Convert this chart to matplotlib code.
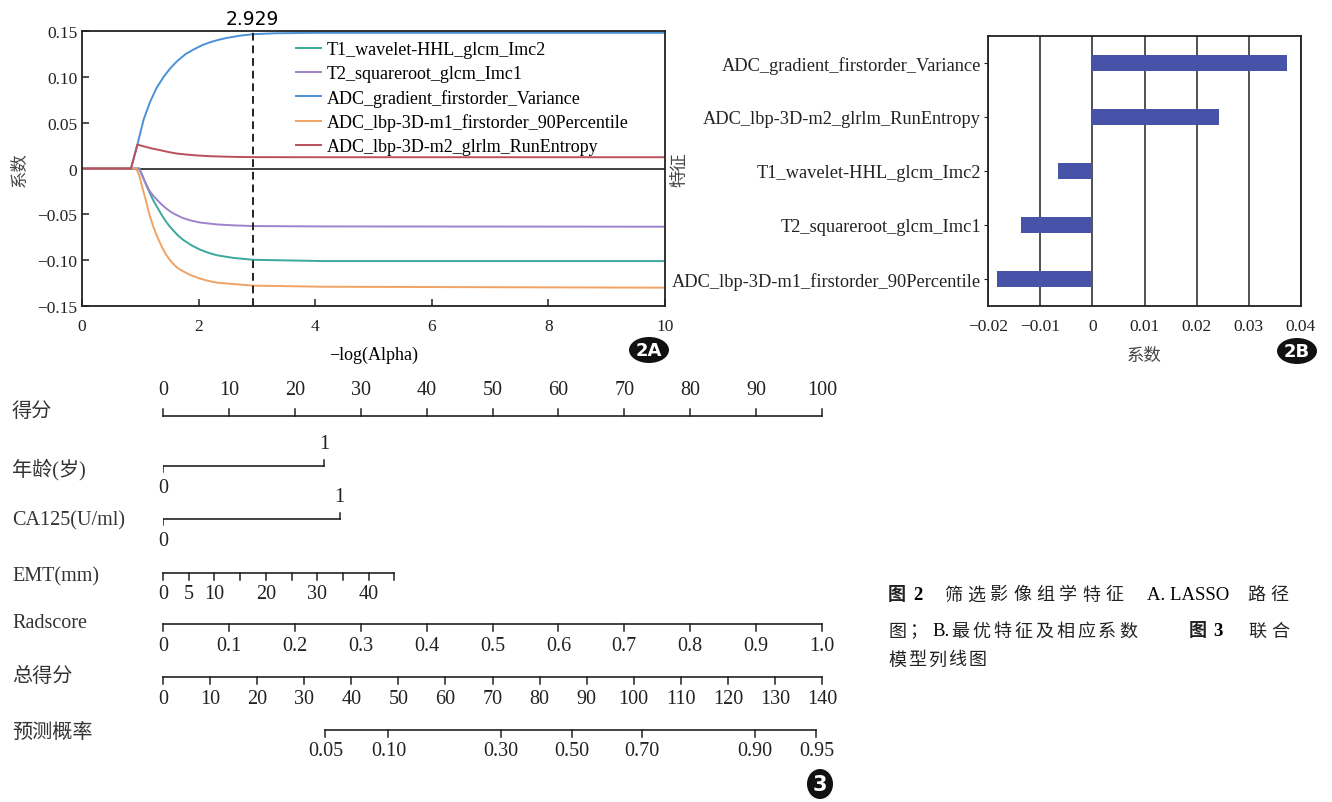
import matplotlib
matplotlib.use("Agg")
import matplotlib.pyplot as plt
from matplotlib.patches import Ellipse
import numpy as np

plt.rcParams['font.family'] = ['Liberation Serif', 'Noto Sans CJK SC']
plt.rcParams['axes.unicode_minus'] = True

W, H = 1332, 803

# ---- 2A: LASSO path (coefficients) ----
path_names = ["T1_wavelet-HHL_glcm_Imc2", "T2_squareroot_glcm_Imc1",
              "ADC_gradient_firstorder_Variance",
              "ADC_lbp-3D-m1_firstorder_90Percentile",
              "ADC_lbp-3D-m2_glrlm_RunEntropy"]
path_colors = ["#3aa89c", "#9e82cb", "#4b91d8", "#f0a365", "#b9505c"]

teal_x = [0, 0.98, 1.04, 1.10, 1.15, 1.22, 1.30, 1.37, 1.44, 1.51, 1.58, 1.65, 1.73,
          1.87, 2.02, 2.16, 2.31, 2.59, 2.94, 4.15, 10]
teal_y = [0, 0, -0.008, -0.018, -0.025, -0.0345, -0.0433, -0.051, -0.0578, -0.0636,
          -0.0686, -0.0733, -0.0776, -0.0835, -0.0884, -0.0918, -0.0946, -0.0975,
          -0.0996, -0.101, -0.101]
purple_x = [0, 0.98, 1.04, 1.10, 1.15, 1.22, 1.30, 1.37, 1.44, 1.51, 1.58, 1.73, 1.87,
            2.02, 2.31, 2.59, 2.94, 4.15, 10]
purple_y = [0, 0, -0.009, -0.017, -0.0235, -0.0297, -0.035, -0.0395, -0.0433, -0.0467,
            -0.0495, -0.054, -0.0568, -0.0589, -0.061, -0.062, -0.0628, -0.0632, -0.0635]
blue_x = [0, 0.84, 0.95, 1.06, 1.17, 1.28, 1.40, 1.51, 1.63, 1.78, 1.92, 2.06, 2.21,
          2.35, 2.49, 2.70, 2.93, 3.3, 4.0, 10]
blue_y = [0, 0, 0.026, 0.054, 0.073, 0.088, 0.100, 0.109, 0.117, 0.125, 0.130, 0.1345,
          0.138, 0.1405, 0.1425, 0.1448, 0.1465, 0.1475, 0.148, 0.148]
orange_x = [0, 0.93, 0.98, 1.04, 1.10, 1.15, 1.22, 1.30, 1.37, 1.44, 1.51, 1.58, 1.65,
            1.73, 1.87, 2.02, 2.16, 2.31, 2.59, 2.94, 4.15, 10]
orange_y = [0, 0, -0.0072, -0.0217, -0.036, -0.0487, -0.063, -0.0758, -0.0855, -0.0939,
            -0.1, -0.105, -0.109, -0.112, -0.1165, -0.120, -0.1225, -0.1245, -0.126,
            -0.1278, -0.129, -0.130]
red_x = [0, 0.84, 0.95, 1.10, 1.20, 1.34, 1.48, 1.63, 1.78, 1.92, 2.06, 2.21, 2.40,
         2.60, 2.93, 4.0, 10]
red_y = [0, 0, 0.026, 0.0235, 0.0218, 0.020, 0.018, 0.0163, 0.0153, 0.0145, 0.0139,
         0.0134, 0.0130, 0.0127, 0.0124, 0.0123, 0.0123]
best_alpha = 2.929

# ---- 2B: selected features ----
feat_names = ["ADC_gradient_firstorder_Variance", "ADC_lbp-3D-m2_glrlm_RunEntropy",
              "T1_wavelet-HHL_glcm_Imc2", "T2_squareroot_glcm_Imc1",
              "ADC_lbp-3D-m1_firstorder_90Percentile"]
feat_coef = [0.0373, 0.0243, -0.0066, -0.0136, -0.0183]

# ---- 3: nomogram ----
points_ticks = list(range(0, 101, 10))
age_points = 24.4
ca125_points = 26.8
emt_ticks = list(range(0, 46, 5))
emt_labels = [0, 5, 10, 20, 30, 40]
emt_max_points = 35.1
rad_ticks = [0, 0.1, 0.2, 0.3, 0.4, 0.5, 0.6, 0.7, 0.8, 0.9, 1.0]
rad_labels = ["0", "0.1", "0.2", "0.3", "0.4", "0.5", "0.6", "0.7", "0.8", "0.9", "1.0"]
total_ticks = list(range(0, 141, 10))
prob_labels = ["0.05", "0.10", "0.30", "0.50", "0.70", "0.90", "0.95"]
prob_total_pts = [34.5, 47.9, 71.7, 86.8, 101.8, 125.7, 138.8]

fig = plt.figure(figsize=(W / 100, H / 100), dpi=100)


def box(l, t, r, b):
    return [l / W, 1 - b / H, (r - l) / W, (b - t) / H]


def fmt(v):
    if abs(v) < 1e-12:
        return "0"
    s = f"{abs(v):.2f}"
    return ("\u2212" if v < 0 else "") + s


# panel 2A
ax = fig.add_axes(box(82, 32, 665, 307))
series = [(teal_x, teal_y), (purple_x, purple_y), (blue_x, blue_y),
          (orange_x, orange_y), (red_x, red_y)]
for (xs, ys), name, c in zip(series, path_names, path_colors):
    ax.plot(xs, ys, color=c, lw=1.4, label=name, solid_joinstyle="round")
ax.axhline(0, color="#333333", lw=1.3, zorder=1)
ax.axvline(best_alpha, color="#222222", lw=1.4, ls=(0, (4, 2.5)))
ax.text(best_alpha, 0.1535, f"{best_alpha:.3f}", ha="center", va="bottom",
        fontsize=13.5, family="DejaVu Sans")
ax.set_xlim(0, 10)
ax.set_ylim(-0.15, 0.15)
ax.set_xticks([0, 2, 4, 6, 8, 10])
ax.set_xticklabels(["0", "2", "4", "6", "8", "10"])
yt = [-0.15, -0.10, -0.05, 0, 0.05, 0.10, 0.15]
ax.set_yticks(yt)
ax.set_yticklabels([fmt(v) for v in yt])
ax.tick_params(direction="in", length=5, width=1.1, labelsize=12.5, colors="#222222")
ax.tick_params(axis="x", pad=9)
for s in ax.spines.values():
    s.set_linewidth(1.3)
    s.set_color("#222222")
ax.set_xlabel("\u2212log(Alpha)", fontsize=13, labelpad=8)
ax.set_ylabel("系数", fontsize=12.5, labelpad=6, color="#444444")
leg = ax.legend(loc="upper left", bbox_to_anchor=(287 / W, 1 - 33 / H),
                bbox_transform=fig.transFigure, frameon=False, fontsize=13,
                handlelength=1.4, handletextpad=0.3, labelspacing=0.38, borderpad=0)

# panel 2B
bx = fig.add_axes(box(988, 37, 1301, 307))
ypos = np.arange(len(feat_names))
bx.barh(ypos, feat_coef, height=0.3, color="#4653a8", zorder=3)
bx.set_ylim(len(feat_names) - 0.5, -0.5)
bx.set_xlim(-0.02, 0.04)
xt = [-0.02, -0.01, 0, 0.01, 0.02, 0.03, 0.04]
bx.set_xticks(xt)
bx.set_xticklabels([("\u2212" if v < 0 else "") + (f"{abs(v):.2f}" if v != 0 else "0") for v in xt])
bx.set_yticks(ypos)
bx.set_yticklabels(feat_names)
bx.grid(axis="x", color="#222222", lw=1.1, zorder=0)
bx.tick_params(axis="x", length=0, labelsize=12.5, pad=9, colors="#222222")
bx.tick_params(axis="y", length=3, labelsize=13.2, pad=2, colors="#222222")
for s in bx.spines.values():
    s.set_linewidth(1.3)
    s.set_color("#222222")
bx.set_xlabel("系数", fontsize=12.5, labelpad=10, color="#444444")
fig.text(680 / W, 1 - 170 / H, "特征", rotation=90, fontsize=12.5, color="#444444",
         ha="center", va="center")

# panel 3: nomogram, x in points (0-100), y in pixel rows
nx = fig.add_axes([163 / W, 0, (822 - 163) / W, 1])
nx.set_xlim(0, 100)
nx.set_ylim(H, 0)
nx.axis("off")
lc = "#222222"
fs = 14.5


def scale_row(y, pos, labels, up, lab_y, label_pos=None):
    nx.plot([min(pos), max(pos)], [y, y], color=lc, lw=1.2, clip_on=False)
    d = -7 if up else 7
    for p in pos:
        nx.plot([p, p], [y, y + d], color=lc, lw=1.1, clip_on=False)
    if label_pos is None:
        label_pos = pos
    for p, t in zip(label_pos, labels):
        nx.text(p, lab_y, t, ha="center", va="center", fontsize=fs, color=lc)


scale_row(417, points_ticks, [str(v) for v in points_ticks], True, 391)

for y, pts in [(467, age_points), (520, ca125_points)]:
    nx.plot([0, pts], [y, y], color=lc, lw=1.2)
    nx.plot([0, 0], [y, y + 6], color=lc, lw=1.1)
    nx.plot([pts, pts], [y, y - 6], color=lc, lw=1.1)
    nx.text(0, y + 22, "0", ha="center", va="center", fontsize=fs, color=lc)
    nx.text(pts, y - 22, "1", ha="center", va="center", fontsize=fs, color=lc)

emt_pos = [v / emt_ticks[-1] * emt_max_points for v in emt_ticks]
emt_lab_pos = [v / emt_ticks[-1] * emt_max_points for v in emt_labels]
scale_row(574, emt_pos, [str(v) for v in emt_labels], False, 595, emt_lab_pos)

scale_row(625, [v * 100 for v in rad_ticks], rad_labels, False, 647)
scale_row(678, [v / 140 * 100 for v in total_ticks], [str(v) for v in total_ticks], False, 700)
scale_row(731, [v / 140 * 100 for v in prob_total_pts], prob_labels, False, 752)

row_labels = [("得分", 413), ("年龄(岁)", 470), ("CA125(U/ml)", 521), ("EMT(mm)", 577),
              ("Radscore", 624), ("总得分", 677), ("预测概率", 733)]
for t, y in row_labels:
    fig.text(12 / W, 1 - y / H, t, ha="left", va="center", fontsize=fs, color="#333333")


# badges
def badge(cx, cy, w, h, txt, size):
    fig.patches.append(Ellipse((cx / W, 1 - cy / H), w / W, h / H,
                               transform=fig.transFigure, facecolor="#111111",
                               edgecolor="none"))
    fig.text(cx / W, 1 - cy / H, txt, ha="center", va="center", color="white",
             fontsize=size, family="DejaVu Sans", weight="bold")


badge(649, 351, 40, 26, "2A", 13)
badge(1297, 352, 40, 26, "2B", 13)
badge(820, 785, 26, 30, "3", 15)


# captions
def spaced(x, y, s, step, bold=False):
    for i, ch in enumerate(s):
        fig.text((x + i * step) / W, 1 - y / H, ch, ha="left", va="center", fontsize=13,
                 weight="bold" if bold else "normal", color="#222222")


spaced(888, 596, "图", 23, True)
fig.text(913 / W, 1 - 596 / H, "2", fontsize=13.5, weight="bold", va="center")
spaced(944, 596, "筛选影像组学特征", 23)
fig.text(1147 / W, 1 - 596 / H, "A. LASSO", fontsize=13.5, va="center")
spaced(1247, 596, "路径", 23)
spaced(888, 632, "图；", 21)
fig.text(932 / W, 1 - 632 / H, "B.", fontsize=13.5, va="center")
spaced(951, 632, "最优特征及相应系数", 21)
spaced(1189, 632, "图", 23, True)
fig.text(1213 / W, 1 - 632 / H, "3", fontsize=13.5, weight="bold", va="center")
spaced(1248, 632, "联合", 23)
spaced(888, 661, "模型列线图", 20)

fig.savefig("out.png", dpi=100)
